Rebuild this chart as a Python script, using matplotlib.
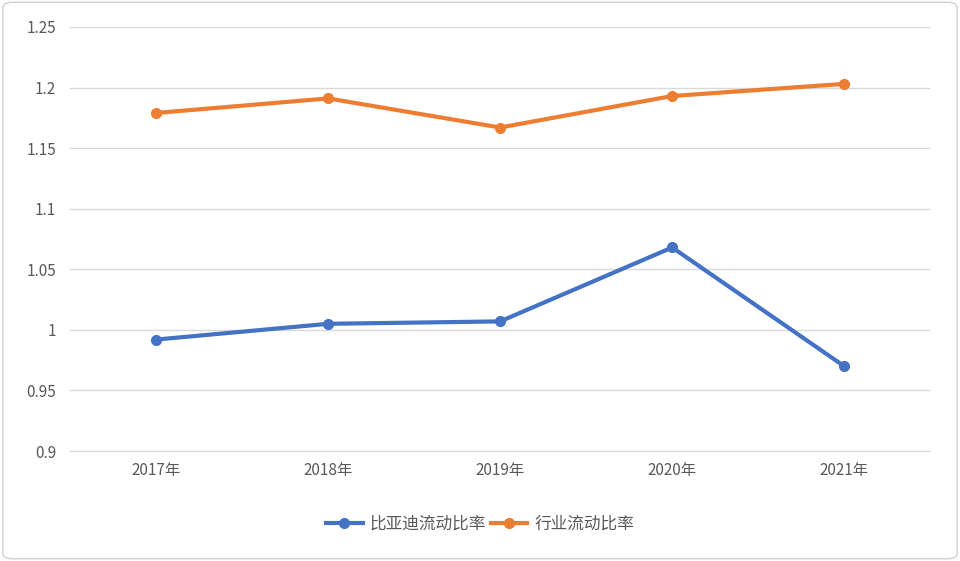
import matplotlib
matplotlib.use('Agg')
import matplotlib.pyplot as plt
from matplotlib.patches import FancyBboxPatch

plt.rcParams['font.family'] = ['Noto Sans CJK SC', 'DejaVu Sans']

# ─── DATA ────────────────────────────────────────────────
years = ['2017年', '2018年', '2019年', '2020年', '2021年']
byd_ratio = [0.992, 1.005, 1.007, 1.068, 0.970]
industry_ratio = [1.179, 1.191, 1.167, 1.193, 1.203]
yticks = [0.9, 0.95, 1.0, 1.05, 1.1, 1.15, 1.2, 1.25]

BLUE = '#4472c4'
ORANGE = '#ed7d31'

fig = plt.figure(figsize=(9.6, 5.61), dpi=100, facecolor='white')
fig.patches.append(FancyBboxPatch((0.003, 0.004), 0.994, 0.992,
                                  boxstyle='round,pad=0,rounding_size=0.01',
                                  transform=fig.transFigure, fill=False,
                                  edgecolor='#d0d0d0', linewidth=1))
ax = fig.add_axes([0.073, 0.196, 0.896, 0.756])

x = range(len(years))
ax.plot(x, byd_ratio, color=BLUE, lw=3, marker='o', ms=7, label='比亚迪流动比率')
ax.plot(x, industry_ratio, color=ORANGE, lw=3, marker='o', ms=7, label='行业流动比率')

ax.set_xlim(-0.5, len(years) - 0.5)
ax.set_ylim(0.9, 1.25)
ax.set_yticks(yticks)
ax.set_yticklabels([f'{v:g}' for v in yticks])
ax.set_xticks(list(x))
ax.set_xticklabels(years)
ax.grid(axis='y', color='#d9d9d9', lw=1)
ax.set_axisbelow(True)
for s in ['top', 'right', 'left']:
    ax.spines[s].set_visible(False)
ax.spines['bottom'].set_color('#d9d9d9')
ax.tick_params(length=0, colors='#595959', labelsize=11)
ax.tick_params(axis='x', pad=8)
ax.tick_params(axis='y', pad=10)

fig.legend(loc='center', bbox_to_anchor=(0.5, 0.065), ncol=2, frameon=False,
           fontsize=12, labelcolor='#595959', handlelength=2.2, columnspacing=0.3,
           handletextpad=0.4)

fig.savefig('out.png', dpi=100)
